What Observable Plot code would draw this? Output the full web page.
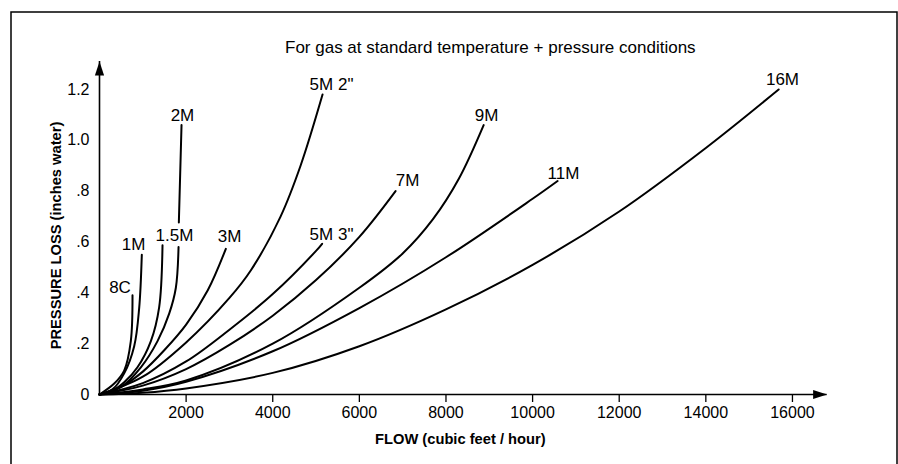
<!DOCTYPE html>
<html>
<head>
<meta charset="utf-8">
<script src="https://cdn.jsdelivr.net/npm/d3@7"></script>
<script src="https://cdn.jsdelivr.net/npm/@observablehq/plot@0.6"></script>
<style>
  html, body { margin: 0; padding: 0; background: #fff; }
  #chart svg { display: block; }
</style>
</head>
<body>
<div id="chart"></div>
<script>
// ---- Data (flow in cubic feet/hour, loss in inches water) ----
const meters = ["8C", "1M", "1.5M", "2M", "3M", "5M 2\"", "5M 3\"", "7M", "9M", "11M", "16M"];

const flow8C  = [0, 340, 570, 723, 762];
const loss8C  = [0, 0.043, 0.094, 0.21, 0.39];

const flow1M  = [0, 300, 570, 801, 916, 977];
const loss1M  = [0, 0.02, 0.083, 0.19, 0.34, 0.55];

const flow15M = [0, 300, 570, 877, 1186, 1378, 1455];
const loss15M = [0, 0.015, 0.048, 0.107, 0.21, 0.344, 0.587];

// 2M: the drawn line has a small gap (NaN) before its near-vertical top part
const flow2M  = [0, 500, 955, 1340, 1609, 1763, 1825, NaN, 1832, 1894];
const loss2M  = [0, 0.03, 0.107, 0.21, 0.318, 0.42, 0.58, NaN, 0.677, 1.06];

const flow3M  = [0, 500, 1000, 1500, 2000, 2500, 2917];
const loss3M  = [0, 0.03, 0.09, 0.175, 0.275, 0.41, 0.573];

const flow5M2 = [0, 1000, 2000, 3000, 3500, 4180, 4642, 5150];
const loss5M2 = [0, 0.07, 0.205, 0.38, 0.49, 0.70, 0.90, 1.18];

const flow5M3 = [0, 1000, 2000, 3000, 4000, 5000, 5140];
const loss5M3 = [0, 0.045, 0.13, 0.255, 0.395, 0.565, 0.593];

const flow7M  = [0, 1000, 2000, 3000, 4000, 5000, 6000, 6836];
const loss7M  = [0, 0.035, 0.10, 0.195, 0.31, 0.45, 0.62, 0.80];

const flow9M  = [0, 1000, 2000, 4000, 6000, 7000, 7700, 8300, 8870];
const loss9M  = [0, 0.02, 0.055, 0.20, 0.42, 0.555, 0.69, 0.85, 1.06];

const flow11M = [0, 1000, 2000, 4000, 6000, 8000, 10000, 10577];
const loss11M = [0, 0.015, 0.05, 0.17, 0.34, 0.54, 0.77, 0.84];

const flow16M = [0, 1000, 2000, 4000, 6000, 8000, 10000, 12000, 14000, 15681];
const loss16M = [0, 0.007, 0.024, 0.085, 0.19, 0.335, 0.51, 0.72, 0.97, 1.20];

// curve label anchors (data units)
const labelFlow = [473, 785, 1732, 1916, 3002, 5357, 5357, 7112, 8936, 10714, 15770];
const labelLoss = [0.421, 0.590, 0.625, 1.098, 0.622, 1.220, 0.629, 0.842, 1.098, 0.869, 1.239];

// axes
const xDomain = [0, 16800];
const yDomain = [0, 1.31];
const xTicks = [2000, 4000, 6000, 8000, 10000, 12000, 14000, 16000];
const xTickLabels = ["2000", "4000", "6000", "8000", "10000", "12000", "14000", "16000"];
const yTicks = [0, 0.2, 0.4, 0.6, 0.8, 1.0, 1.2];
const yTickLabels = ["0", ".2", ".4", ".6", ".8", "1.0", "1.2"];

const title = "For gas at standard temperature + pressure conditions";
const xTitle = "FLOW (cubic feet / hour)";
const yTitle = "PRESSURE LOSS (inches water)";

// ---- build tables ----
const seriesFlows = [flow8C, flow1M, flow15M, flow2M, flow3M, flow5M2, flow5M3, flow7M, flow9M, flow11M, flow16M];
const seriesLosses = [loss8C, loss1M, loss15M, loss2M, loss3M, loss5M2, loss5M3, loss7M, loss9M, loss11M, loss16M];
const rows = [];
meters.forEach((m, i) => {
  seriesFlows[i].forEach((f, j) => rows.push({meter: m, flow: f, loss: seriesLosses[i][j]}));
});
const labels = meters.map((m, i) => ({meter: m, flow: labelFlow[i], loss: labelLoss[i]}));

// filled arrowheads (tip at the symbol origin)
const headUp = {draw(ctx) { ctx.moveTo(0, 0); ctx.lineTo(4.6, 14); ctx.lineTo(-4.6, 14); ctx.closePath(); }};
const headRight = {draw(ctx) { ctx.moveTo(0, 0); ctx.lineTo(-14, 4.6); ctx.lineTo(-14, -4.6); ctx.closePath(); }};

const font = "'Liberation Sans', Arial, Helvetica, sans-serif";

const chart = Plot.plot({
  width: 898,
  height: 464,
  marginLeft: 99,
  marginRight: 71.4,
  marginTop: 61,
  marginBottom: 70,
  x: {domain: xDomain},
  y: {domain: yDomain},
  style: {fontFamily: font, fontSize: "16px", background: "#fff", color: "#000"},
  marks: [
    Plot.axisX(xTicks, {tickSize: 8, tickPadding: 4, strokeWidth: 1.3, fontSize: 16,
      tickFormat: d => xTickLabels[xTicks.indexOf(d)], label: null}),
    Plot.axisY(yTicks, {tickSize: 0, tickPadding: 10, fontSize: 16,
      tickFormat: d => yTickLabels[yTicks.indexOf(d)], label: null}),
    Plot.ruleY([yDomain[0]], {stroke: "#000", strokeWidth: 1.6}),
    Plot.ruleX([xDomain[0]], {stroke: "#000", strokeWidth: 1.6}),
    Plot.dot([{x: xDomain[0], y: yDomain[1]}], {x: "x", y: "y", symbol: headUp, fill: "#000", stroke: "none", r: 5}),
    Plot.dot([{x: xDomain[1], y: yDomain[0]}], {x: "x", y: "y", symbol: headRight, fill: "#000", stroke: "none", r: 5}),
    Plot.line(rows, {x: "flow", y: "loss", z: "meter", curve: "catmull-rom", stroke: "#000", strokeWidth: 2}),
    Plot.text(labels, {x: "flow", y: "loss", text: "meter", fontSize: 17, fill: "#000"}),
    Plot.text([title], {frameAnchor: "top", lineAnchor: "middle", textAnchor: "middle", dx: 27, dy: -14, fontSize: 17, fill: "#000"}),
    Plot.text([xTitle], {frameAnchor: "bottom", lineAnchor: "middle", textAnchor: "middle", dx: -3, dy: 45, fontSize: 14.7, fontWeight: "bold", fill: "#000"}),
    Plot.text([yTitle], {frameAnchor: "left", lineAnchor: "middle", textAnchor: "middle", dx: -43, dy: 7.5, rotate: -90, fontSize: 14.7, fontWeight: "bold", fill: "#000"})
  ]
});

// outer border of the figure
d3.select(chart).append("rect")
  .attr("x", 11).attr("y", 12).attr("width", 886).attr("height", 470)
  .attr("fill", "none").attr("stroke", "#000").attr("stroke-width", 1.5);

document.getElementById("chart").append(chart);
</script>
</body>
</html>
